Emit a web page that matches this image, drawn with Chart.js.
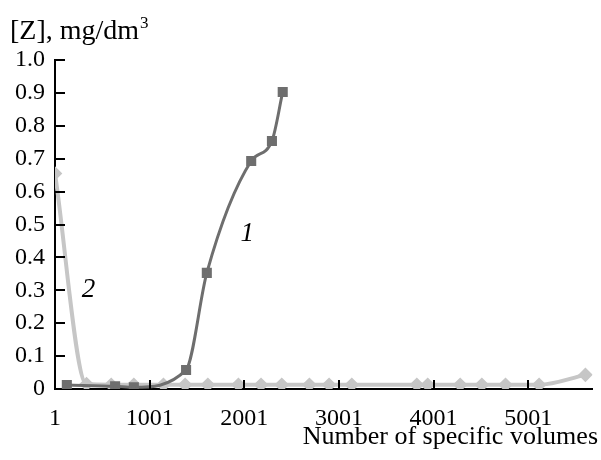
<!DOCTYPE html>
<html>
<head>
<meta charset="utf-8">
<script src="https://cdn.jsdelivr.net/npm/chart.js@4"></script>
<style>
  body { margin: 0; background: #fff; }
  #wrap { width: 601px; height: 460px; position: relative; }
</style>
</head>
<body>
<div id="wrap"><canvas id="chart"></canvas></div>
<script>
// data
const xTicks = [1, 1001, 2001, 3001, 4001, 5001];
const yTicks = [0, 0.1, 0.2, 0.3, 0.4, 0.5, 0.6, 0.7, 0.8, 0.9, 1.0];

const curve1X = [126, 636, 834, 1386, 1605, 2074, 2293, 2407];
const curve1Y = [0.012, 0.008, 0.005, 0.058, 0.353, 0.693, 0.754, 0.903];

const curve2X = [1, 334, 595, 834, 1147, 1376, 1616, 1939, 2178, 2397, 2689, 2897, 3137, 3824, 3939, 4282, 4511, 4761, 5116, 5605];
const curve2Y = [0.655, 0.015, 0.013, 0.013, 0.013, 0.013, 0.013, 0.013, 0.013, 0.013, 0.013, 0.013, 0.013, 0.013, 0.013, 0.013, 0.013, 0.013, 0.013, 0.043];

const curveLabels = [
  { text: '1', x: 2032, y: 0.47 },
  { text: '2', x: 355, y: 0.30 },
];

const serif = '"Liberation Serif", "DejaVu Serif", serif';

function toPoints(xs, ys) {
  return xs.map((x, i) => ({ x: x, y: ys[i] }));
}

// inside tick marks, curve numbers and axis titles
const extras = {
  id: 'extras',
  afterDraw(chart) {
    const ctx = chart.ctx;
    const xs = chart.scales.x;
    const ys = chart.scales.y;
    const area = chart.chartArea;

    ctx.save();
    ctx.strokeStyle = '#000';
    ctx.lineWidth = 2;
    ctx.beginPath();
    yTicks.forEach(v => {
      if (v === 0) return;
      const py = Math.round(ys.getPixelForValue(v));
      ctx.moveTo(area.left, py);
      ctx.lineTo(area.left + 10, py);
    });
    xTicks.forEach(v => {
      if (v === 1) return;
      const px = Math.round(xs.getPixelForValue(v));
      ctx.moveTo(px, area.bottom);
      ctx.lineTo(px, area.bottom - 9);
    });
    ctx.stroke();

    ctx.fillStyle = '#000';
    ctx.font = 'italic 27px ' + serif;
    ctx.textAlign = 'center';
    ctx.textBaseline = 'middle';
    curveLabels.forEach(l => {
      ctx.fillText(l.text, xs.getPixelForValue(l.x), ys.getPixelForValue(l.y));
    });

    ctx.textBaseline = 'alphabetic';
    ctx.textAlign = 'left';
    ctx.font = '28px ' + serif;
    const main = '[Z], mg/dm';
    ctx.fillText(main, 10, 39);
    const w = ctx.measureText(main).width;
    ctx.font = '17px ' + serif;
    ctx.fillText('3', 10 + w + 1, 28);

    ctx.font = '26px ' + serif;
    ctx.textAlign = 'right';
    ctx.fillText('Number of specific volumes', 598, 444);
    ctx.restore();
  }
};

new Chart(document.getElementById('chart'), {
  type: 'line',
  data: {
    datasets: [
      {
        label: '1',
        data: toPoints(curve1X, curve1Y),
        borderColor: '#6e6e6e',
        backgroundColor: '#6e6e6e',
        borderWidth: 3,
        pointStyle: 'rect',
        pointRadius: 5,
        cubicInterpolationMode: 'monotone',
      },
      {
        label: '2',
        data: toPoints(curve2X, curve2Y),
        borderColor: '#c6c6c6',
        backgroundColor: '#c6c6c6',
        borderWidth: 4,
        pointStyle: 'rectRot',
        pointRadius: 4.5,
        cubicInterpolationMode: 'monotone',
      },
    ],
  },
  options: {
    responsive: true,
    maintainAspectRatio: false,
    animation: false,
    layout: { padding: { top: 60, right: 1, left: 0, bottom: 0 } },
    plugins: {
      legend: { display: false },
      tooltip: { enabled: false },
    },
    scales: {
      x: {
        type: 'linear',
        min: 1,
        max: 5680,
        grid: { display: false, drawTicks: false },
        border: { display: true, color: '#000', width: 2 },
        afterBuildTicks: s => { s.ticks = xTicks.map(v => ({ value: v })); },
        afterFit: s => { s.height = 71; },
        ticks: {
          padding: 15,
          color: '#000',
          maxRotation: 0,
          autoSkip: false,
          font: { family: serif, size: 24 },
          callback: v => String(v),
        },
      },
      y: {
        type: 'linear',
        min: 0,
        max: 1,
        grid: { display: false, drawTicks: false },
        border: { display: true, color: '#000', width: 2 },
        afterBuildTicks: s => { s.ticks = yTicks.map(v => ({ value: v })); },
        afterFit: s => { s.width = 55; },
        ticks: {
          padding: 10,
          color: '#000',
          autoSkip: false,
          font: { family: serif, size: 24 },
          callback: v => (v === 0 ? '0' : v.toFixed(1)),
        },
      },
    },
  },
  plugins: [extras],
});
</script>
</body>
</html>
